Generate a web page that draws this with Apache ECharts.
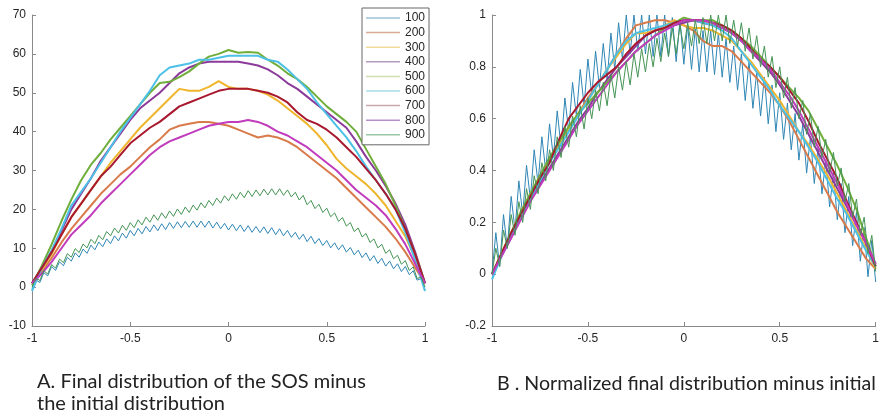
<!DOCTYPE html>
<html><head><meta charset="utf-8">
<script src="https://cdn.jsdelivr.net/npm/echarts@6/dist/echarts.min.js"></script>
<style>html,body{margin:0;padding:0;background:#fff}#c{width:882px;height:417px}</style>
</head><body><div id="c"></div>
<script>
const names = ['100','200','300','400','500','600','700','800','900'];
const colors = ['#2f86b5','#d97a4a','#efb52c','#8b3a9a','#6fae3a','#4cc0e6','#a8182e','#c03cbc','#459455'];
const legendColors = ['#9cc3d5','#d6ab92','#f0dc9a','#b49bbd','#cfe0b0','#a9dcea','#c9a6ad','#b890c8','#9cc7a4'];

const X41 = [-1,-0.95,-0.9,-0.85,-0.8,-0.75,-0.7,-0.65,-0.6,-0.55,-0.5,-0.45,-0.4,-0.35,-0.3,-0.25,-0.2,-0.15,-0.1,-0.05,0,0.05,0.1,0.15,0.2,0.25,0.3,0.35,0.4,0.45,0.5,0.55,0.6,0.65,0.7,0.75,0.8,0.85,0.9,0.95,1];
const X101 = [-1,-0.98,-0.96,-0.94,-0.92,-0.9,-0.88,-0.86,-0.84,-0.82,
-0.8,-0.78,-0.76,-0.74,-0.72,-0.7,-0.68,-0.66,-0.64,-0.62,
-0.6,-0.58,-0.56,-0.54,-0.52,-0.5,-0.48,-0.46,-0.44,-0.42,
-0.4,-0.38,-0.36,-0.34,-0.32,-0.3,-0.28,-0.26,-0.24,-0.22,
-0.2,-0.18,-0.16,-0.14,-0.12,-0.1,-0.08,-0.06,-0.04,-0.02,
0,0.02,0.04,0.06,0.08,0.1,0.12,0.14,0.16,0.18,
0.2,0.22,0.24,0.26,0.28,0.3,0.32,0.34,0.36,0.38,
0.4,0.42,0.44,0.46,0.48,0.5,0.52,0.54,0.56,0.58,
0.6,0.62,0.64,0.66,0.68,0.7,0.72,0.74,0.76,0.78,
0.8,0.82,0.84,0.86,0.88,0.9,0.92,0.94,0.96,0.98,1];

// Panel A: final distribution minus initial
const A100 = [-0.5,1.8,1.2,3.7,2.9,5.3,4.3,6.5,5.5,7.7,
6.7,8.8,7.7,9.8,8.7,10.8,9.6,11.6,10.4,12.4,
11.2,13.2,11.9,13.9,12.6,14.6,13.2,15.1,13.7,15.6,
14.2,16,14.5,16.3,14.8,16.6,15.1,16.8,15.3,16.9,
15.4,17,15.4,17,15.4,17,15.2,16.7,15,16.4,
14.7,16.2,14.5,16,14.3,15.8,14.1,15.6,14,15.5,
13.8,15.3,13.5,15,13.2,14.6,12.8,14.1,12.3,13.6,
11.7,13.1,11.2,12.5,10.7,12,10.1,11.4,9.6,10.9,
9,10.2,8.3,9.5,7.6,8.8,6.8,8.1,6.1,7.4,
5.4,6.7,4.7,6,4,5.3,3.2,4.2,1.8,2.2,-0.8];
const A200 = [1,4,7.5,11.5,15,18,21,24,26.5,29,31,33.5,36,38,40.5,41.5,42,42.5,42.5,42,41.5,40.5,39.5,38.5,39,38.5,37.5,36,34,32,30,28,25.5,23,20.5,18,15.5,12.5,9,5,1];
const A300 = [1,4.5,8.5,13.5,18,21.5,25,28.5,32,35,38,41,43.5,46,48.5,51,50.5,50.5,51.5,53,51.5,51,51,50.5,49.5,48,46,44,42,39.5,36.5,33,30.5,28.5,26.5,24,21,17,13,7.5,1];
const A400 = [1,5,9,14.5,20,24,28,32.5,36,39.5,43,46,48,50,52.5,55,56.5,57.5,58,58,58,58,57.5,57,56,54.5,52.5,51,49,47,45,43,41,37.5,33.5,30,26,21.5,16,9,1];
const A500 = [0.5,5.5,11,17,22.5,27.5,31.5,34.5,38,41,44,47,50,52.5,52.8,54,55.5,57.5,59.3,60,61,60.3,60.5,60.3,58.5,57,55,53.5,51.5,49,46.5,44.5,42.5,40,35.5,31,26.5,21,15,8.5,1];
const A600 = [-1,5,9.5,15,21,24.5,28,32,36,40,43.5,47,50.5,54.5,56.5,57,57.5,58.5,58.5,59,59.5,59.5,59.5,59.5,58.5,58,56,53.5,51,47.5,44.5,41.5,38.5,35,31,27.5,24,20,14,7,-1];
const A700 = [1,5,9,13.5,18,21.5,25,28.5,31,34,37,39,41,42.5,44.5,46.5,47.5,48.5,49.5,50.5,51,51,51,50.5,50,49,47.5,45,43,42,40.5,38.5,36,33.5,30.5,27.5,24,20,15,8.5,1];
const A800 = [1,3.5,6.5,10,13.5,16,18.5,21.5,24,26.5,29,31.5,34,36,37.5,38.5,39.5,40.5,41.5,42,42.5,42.5,43,42.5,41.5,40,39,37.5,36,34,32,30,27.5,25,23,21,18.5,15,11,6,1];
const A900 = [0,2.3,1.7,4.2,3.4,5.8,4.9,7.2,6.3,8.6,
7.7,9.9,8.9,11.1,10.1,12.3,11.2,13.3,12.2,14.3,
13.2,15.2,13.9,15.9,14.6,16.6,15.3,17.3,16,18,
16.7,18.6,17.2,19.1,17.7,19.6,18.2,20.1,18.7,20.6,
19.2,21.1,19.8,21.7,20.4,22.3,21,22.9,21.6,23.5,
22.2,24,22.6,24.4,23,24.8,23.3,25,23.5,25.2,
23.7,25.3,23.7,25.3,23.6,25,23.2,24.4,22.4,23.6,
21.2,22.3,20.2,21.3,19.2,20.3,18.1,19.1,16.9,17.9,
15.7,16.6,14.3,15.2,12.9,13.8,11.5,12.4,10.1,11,
8.7,9.6,7.3,8.2,5.9,6.8,4.3,5.2,2.2,2.6,0];

// Panel B: normalized
const B100 = [0,0.16,0.03,0.23,0.1,0.3,0.17,0.36,0.23,0.42,
0.29,0.48,0.35,0.53,0.4,0.58,0.45,0.63,0.49,0.68,
0.55,0.74,0.61,0.79,0.65,0.83,0.69,0.86,0.72,0.89,
0.75,0.93,0.79,0.97,0.83,1.0,0.85,1.0,0.86,1.0,
0.85,1.0,0.84,1.0,0.84,1.0,0.84,0.99,0.82,0.98,
0.81,0.96,0.79,0.95,0.78,0.94,0.78,0.94,0.77,0.93,
0.76,0.91,0.74,0.88,0.71,0.85,0.67,0.82,0.64,0.78,
0.61,0.76,0.58,0.73,0.55,0.7,0.52,0.66,0.48,0.62,
0.44,0.58,0.39,0.53,0.35,0.49,0.31,0.44,0.26,0.39,
0.21,0.35,0.16,0.3,0.11,0.24,0.05,0.18,-0.01,0.13,-0.03];
const B200 = [0,0.08,0.16,0.23,0.3,0.37,0.44,0.5,0.56,0.62,0.68,0.73,0.79,0.85,0.91,0.96,0.97,0.98,0.98,0.97,0.96,0.94,0.9,0.88,0.88,0.86,0.82,0.78,0.74,0.7,0.65,0.59,0.52,0.45,0.38,0.31,0.24,0.18,0.12,0.06,0.02];
const B300 = [0,0.08,0.16,0.24,0.31,0.38,0.44,0.5,0.56,0.62,0.67,0.73,0.79,0.84,0.89,0.93,0.93,0.94,0.96,0.98,0.96,0.95,0.95,0.94,0.92,0.9,0.86,0.82,0.77,0.72,0.67,0.61,0.55,0.5,0.44,0.38,0.31,0.24,0.17,0.1,0.02];
const B400 = [0,0.07,0.14,0.22,0.29,0.35,0.41,0.47,0.53,0.59,0.64,0.7,0.75,0.8,0.84,0.88,0.92,0.94,0.95,0.96,0.97,0.98,0.97,0.96,0.95,0.93,0.9,0.86,0.82,0.78,0.73,0.67,0.61,0.54,0.47,0.4,0.33,0.26,0.19,0.12,0.04];
const B500 = [0,0.08,0.16,0.24,0.31,0.38,0.45,0.51,0.57,0.62,0.66,0.7,0.74,0.78,0.82,0.86,0.89,0.92,0.95,0.97,0.99,0.98,0.98,0.98,0.96,0.94,0.91,0.88,0.84,0.8,0.76,0.72,0.68,0.63,0.56,0.49,0.42,0.34,0.25,0.14,0.03];
const B600 = [-0.02,0.07,0.15,0.22,0.29,0.36,0.43,0.49,0.55,0.61,0.67,0.73,0.79,0.85,0.9,0.93,0.94,0.95,0.96,0.97,0.98,0.98,0.97,0.96,0.94,0.91,0.86,0.81,0.76,0.71,0.65,0.6,0.55,0.49,0.43,0.36,0.29,0.23,0.16,0.09,0.03];
const B700 = [0,0.08,0.16,0.23,0.3,0.37,0.43,0.52,0.6,0.65,0.7,0.74,0.77,0.8,0.85,0.89,0.92,0.94,0.95,0.97,0.98,0.98,0.98,0.97,0.96,0.94,0.91,0.87,0.83,0.8,0.76,0.71,0.66,0.59,0.51,0.44,0.37,0.28,0.2,0.12,0.03];
const B800 = [0,0.07,0.14,0.21,0.28,0.34,0.4,0.46,0.52,0.58,0.63,0.68,0.73,0.78,0.82,0.86,0.89,0.92,0.94,0.96,0.98,0.98,0.98,0.97,0.95,0.93,0.9,0.86,0.83,0.79,0.74,0.69,0.63,0.56,0.49,0.42,0.35,0.27,0.19,0.12,0.04];
const B900 = [0,0.1,0.03,0.17,0.1,0.23,0.15,0.28,0.2,0.33,
0.25,0.38,0.31,0.43,0.36,0.48,0.4,0.53,0.45,0.57,
0.49,0.61,0.53,0.65,0.56,0.68,0.6,0.71,0.63,0.74,
0.65,0.77,0.68,0.8,0.71,0.82,0.73,0.85,0.76,0.87,
0.78,0.89,0.8,0.91,0.82,0.93,0.84,0.95,0.85,0.96,
0.87,0.97,0.88,0.98,0.89,0.99,0.89,1.0,0.9,1.0,
0.9,1.0,0.89,0.98,0.88,0.97,0.86,0.95,0.83,0.92,
0.8,0.88,0.76,0.84,0.72,0.8,0.68,0.76,0.64,0.72,
0.6,0.67,0.54,0.62,0.49,0.57,0.45,0.52,0.39,0.47,
0.34,0.41,0.28,0.35,0.22,0.29,0.15,0.22,0.08,0.15,0.01];

const panelA = [A100,A200,A300,A400,A500,A600,A700,A800,A900];
const panelB = [B100,B200,B300,B400,B500,B600,B700,B800,B900];

const captionA1 = 'A. Final distribution of the SOS minus';
const captionA2 = 'the initial distribution';
const captionB = 'B . Normalized final distribution minus initial';

function pairs(ys){ const xs = ys.length === X101.length ? X101 : X41; return ys.map((y,i)=>[xs[i], y]); }

const tickFont = {fontFamily:'Liberation Sans, Arial, sans-serif', fontSize:12, color:'#262626'};
const axisLineStyle = {show:true, onZero:false, lineStyle:{color:'#8a8a8a', width:1}};
function xAxisFor(gi){
  return {type:'value', gridIndex:gi, min:-1, max:1, interval:0.5,
    axisLine:axisLineStyle, axisTick:{inside:true, length:4, lineStyle:{color:'#8a8a8a'}},
    axisLabel:Object.assign({margin:7}, tickFont), splitLine:{show:false}};
}
function yAxisFor(gi,min,max,iv){
  return {type:'value', gridIndex:gi, min:min, max:max, interval:iv,
    axisLine:axisLineStyle, axisTick:{show:true, inside:true, length:4, lineStyle:{color:'#8a8a8a'}},
    axisLabel:Object.assign({margin:6}, tickFont), splitLine:{show:false}};
}

const series = [];
names.forEach((n,i)=>{
  const zig = panelA[i].length === X101.length;
  series.push({name:n, type:'line', xAxisIndex:0, yAxisIndex:0, data:pairs(panelA[i]), showSymbol:false, symbol:'none',
    lineStyle:{color:colors[i], width: zig ? 1 : 2}, itemStyle:{color:colors[i]}, animation:false, z: 2});
});
names.forEach((n,i)=>{
  const zig = panelB[i].length === X101.length;
  series.push({name:n, type:'line', xAxisIndex:1, yAxisIndex:1, data:pairs(panelB[i]), showSymbol:false, symbol:'none',
    lineStyle:{color:colors[i], width: zig ? 1 : 2}, itemStyle:{color:colors[i]}, animation:false, z: 2});
});

const chart = echarts.init(document.getElementById('c'), null, {renderer:'canvas'});
chart.setOption({
  backgroundColor:'#ffffff',
  animation:false,
  grid:[{left:32, top:15, width:393, height:311}, {left:492, top:15, width:394, height:311}],
  xAxis:[xAxisFor(0), xAxisFor(1)],
  yAxis:[yAxisFor(0,-10,70,10), yAxisFor(1,-0.2,1,0.2)],
  legend:{orient:'vertical', left:362, top:8, padding:[3,4,3,4], itemGap:0.6,
    itemWidth:34, itemHeight:1.5, icon:'rect', borderColor:'#666', borderWidth:1, backgroundColor:'#fff',
    textStyle:{fontFamily:'Liberation Sans, Arial, sans-serif', fontSize:12, color:'#262626', lineHeight:14},
    data:names.map((n,i)=>({name:n, itemStyle:{color:legendColors[i]}})), selectedMode:false},
  graphic:[
    {type:'text', left:37, top:370, style:{text:captionA1+'\n'+captionA2, font:'20px Lato, sans-serif', fill:'#222', lineHeight:22.5}},
    {type:'text', left:497, top:374, style:{text:captionB, font:'19.6px Lato, sans-serif', fill:'#222'}}
  ],
  series:series
});
</script></body></html>
